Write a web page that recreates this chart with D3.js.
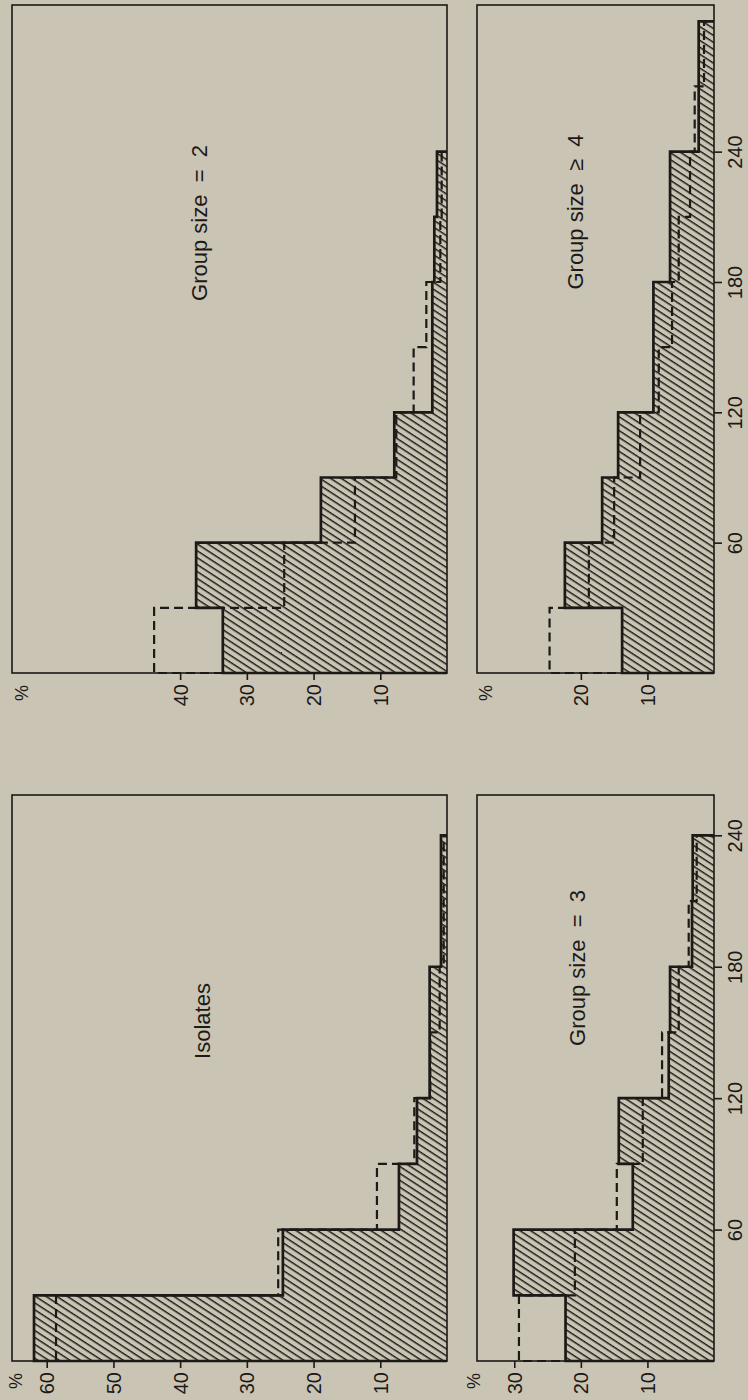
<!DOCTYPE html>
<html>
<head>
<meta charset="utf-8">
<script src="https://cdn.jsdelivr.net/npm/d3@7"></script>
<style>
  body { margin: 0; background: #c9c4b4; }
  svg { display: block; }
  text { font-family: "Liberation Sans", Arial, sans-serif; fill: #1c1916; }
</style>
</head>
<body>
<div id="chart"></div>
<script>
// time bins in minutes, 30 min wide
const binStarts = [0, 30, 60, 90, 120, 150, 180, 210, 240, 270];
const binWidth = 30;

// % per bin, solid (hatched) and dashed histograms
const isolatesSolid  = [61.9, 24.6, 7.2, 4.5, 2.6, 2.6, 0.9, 0.9];
const isolatesDashed = [58.6, 25.3, 10.5, 4.9, 2.5, 1.1, 0.5, 0.5];
const group2Solid    = [33.6, 37.6, 18.9, 7.9, 2.2, 2.2, 1.9, 1.5];
const group2Dashed   = [43.9, 24.4, 13.8, 7.6, 5.0, 3.1, 1.0, 0.8];
const group3Solid    = [22.3, 30.1, 12.2, 14.3, 6.8, 6.6, 3.3, 3.2];
const group3Dashed   = [29.3, 20.9, 14.6, 10.7, 7.8, 5.3, 3.8, 2.6];
const group4Solid    = [13.8, 22.4, 16.8, 14.4, 9.1, 9.1, 6.6, 6.6, 2.3, 2.3];
const group4Dashed   = [24.7, 18.8, 15.0, 11.1, 8.3, 6.3, 5.3, 3.6, 2.9, 1.5];

const pctTicksIsolates = [10, 20, 30, 40, 50, 60];
const pctTicksGroup2   = [10, 20, 30, 40];
const pctTicksGroup3   = [10, 20, 30];
const pctTicksGroup4   = [10, 20];
const timeTicks = [60, 120, 180, 240];

const titles = ["Group size  =  2", "Isolates", "Group size  \u2265  4", "Group size  =  3"];

// figure is printed turned a quarter turn: time runs up, % runs left
const panels = [
    { title: titles[0], solid: group2Solid, dashed: group2Dashed, pctTicks: pctTicksGroup2,
      left: 12, right: 447, top: 5, bottom: 673, tMax: 307.5, vMax: 65.2,
      timeAxis: false, titleX: 199, titleY: 223, pctX: 22 },
    { title: titles[1], solid: isolatesSolid, dashed: isolatesDashed, pctTicks: pctTicksIsolates,
      left: 12, right: 447, top: 795, bottom: 1361, tMax: 258.4, vMax: 65.2,
      timeAxis: false, titleX: 202, titleY: 1021, pctX: 16 },
    { title: titles[2], solid: group4Solid, dashed: group4Dashed, pctTicks: pctTicksGroup4,
      left: 477, right: 714, top: 5, bottom: 673, tMax: 307.5, vMax: 35.6,
      timeAxis: true, titleX: 575, titleY: 212, pctX: 486 },
    { title: titles[3], solid: group3Solid, dashed: group3Dashed, pctTicks: pctTicksGroup3,
      left: 477, right: 714, top: 795, bottom: 1361, tMax: 258.4, vMax: 35.6,
      timeAxis: true, titleX: 577, titleY: 968, pctX: 474 }
];

const ink = "#1c1916";

const svg = d3.select("#chart").append("svg")
    .attr("width", 748)
    .attr("height", 1400);

svg.append("rect").attr("width", 748).attr("height", 1400).attr("fill", "#c9c4b4");

const defs = svg.append("defs");
const hatch = defs.append("pattern")
    .attr("id", "hatch")
    .attr("patternUnits", "userSpaceOnUse")
    .attr("width", 12)
    .attr("height", 5.8)
    .attr("patternTransform", "rotate(33)");
hatch.append("rect")
    .attr("x", 0).attr("y", 0)
    .attr("width", 12).attr("height", 1.45)
    .attr("fill", ink);

function stepPoints(values) {
    let pts = [[0, binStarts[0]]];
    values.forEach((v, i) => {
        pts.push([v, binStarts[i]]);
        pts.push([v, binStarts[i] + binWidth]);
    });
    pts.push([0, binStarts[values.length - 1] + binWidth]);
    return pts;
}

for (const p of panels) {
    const g = svg.append("g");

    const tScale = d3.scaleLinear().domain([0, p.tMax]).range([p.bottom, p.top]);
    const vScale = d3.scaleLinear().domain([0, p.vMax]).range([p.right, p.left]);

    const line = d3.line()
        .x(d => vScale(d[0]))
        .y(d => tScale(d[1]));

    // hatched area under the solid histogram
    g.append("path")
        .attr("d", line(stepPoints(p.solid)) + "Z")
        .attr("fill", "url(#hatch)")
        .attr("stroke", "none");

    g.append("path")
        .attr("d", line(stepPoints(p.dashed)))
        .attr("fill", "none")
        .attr("stroke", ink)
        .attr("stroke-width", 2.2)
        .attr("stroke-dasharray", "9,5");

    g.append("path")
        .attr("d", line(stepPoints(p.solid)))
        .attr("fill", "none")
        .attr("stroke", ink)
        .attr("stroke-width", 2.7)
        .attr("stroke-linejoin", "miter");

    // frame
    g.append("rect")
        .attr("x", p.left)
        .attr("y", p.top)
        .attr("width", p.right - p.left)
        .attr("height", p.bottom - p.top)
        .attr("fill", "none")
        .attr("stroke", ink)
        .attr("stroke-width", 1.6);

    // % axis along the bottom edge
    const pctAxis = d3.axisBottom(vScale)
        .tickValues(p.pctTicks)
        .tickSize(7)
        .tickFormat(d3.format("d"));
    const pa = g.append("g")
        .attr("transform", `translate(0,${p.bottom})`)
        .call(pctAxis);
    pa.select(".domain").remove();
    pa.selectAll(".tick line").attr("stroke", ink).attr("stroke-width", 1.6);
    pa.selectAll(".tick text")
        .attr("transform", "rotate(-90)")
        .attr("x", -11)
        .attr("y", 7)
        .attr("dy", null)
        .attr("text-anchor", "end")
        .style("font-size", "20px")
        .style("font-family", "'Liberation Sans', Arial, sans-serif")
        .attr("fill", ink);

    g.append("text")
        .attr("transform", `translate(${p.pctX},${p.bottom + 20}) rotate(-90)`)
        .attr("text-anchor", "middle")
        .attr("dy", "0.35em")
        .style("font-size", "18px")
        .text("%");

    // time axis on the right of the lower row panels
    if (p.timeAxis) {
        const timeAxis = d3.axisRight(tScale)
            .tickValues(timeTicks)
            .tickSize(8);
        const ta = g.append("g")
            .attr("transform", `translate(${p.right},0)`)
            .call(timeAxis);
        ta.select(".domain").remove();
        ta.selectAll(".tick line").attr("stroke", ink).attr("stroke-width", 1.6);
        ta.selectAll(".tick text")
            .attr("transform", "rotate(-90)")
            .attr("x", 0)
            .attr("y", 28)
            .attr("dy", null)
            .attr("text-anchor", "middle")
            .style("font-size", "20px")
            .style("font-family", "'Liberation Sans', Arial, sans-serif")
            .attr("fill", ink);
    }

    g.append("text")
        .attr("transform", `translate(${p.titleX},${p.titleY}) rotate(-90)`)
        .attr("text-anchor", "middle")
        .attr("dy", "0.35em")
        .style("font-size", "22px")
        .style("white-space", "pre")
        .attr("xml:space", "preserve")
        .text(p.title);
}
</script>
</body>
</html>
